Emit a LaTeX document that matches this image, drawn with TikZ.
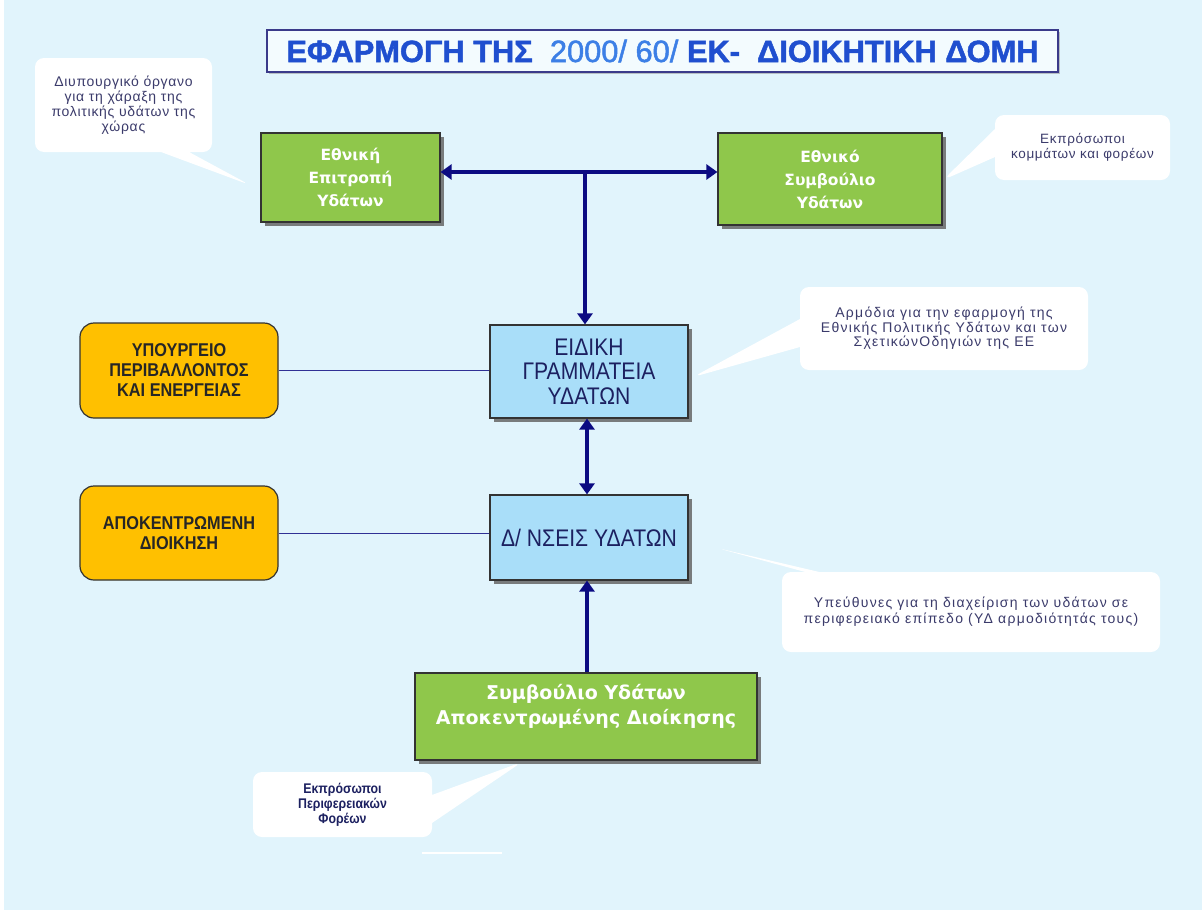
\documentclass[tikz,border=0pt]{standalone}
\usepackage{fontspec}
\usepackage{graphicx}
\setmainfont{Liberation Sans}
\newfontfamily\callfont[LetterSpace=5]{Liberation Sans}
\newfontfamily\callwide[LetterSpace=9]{Liberation Sans}
\newfontfamily\narrowfont[FakeStretch=0.88]{Liberation Sans}
\newfontfamily\titlefont[FakeBold=1.6]{Liberation Sans}
\newfontfamily\verdfont{DejaVu Sans}
\usetikzlibrary{arrows.meta,shadows,shapes.callouts}
\definecolor{bgc}{HTML}{E1F4FC}
\definecolor{gfill}{HTML}{8FC74B}
\definecolor{bfill}{HTML}{A9DEF9}
\definecolor{ofill}{HTML}{FFC000}
\definecolor{arrcol}{HTML}{0B0B82}
\definecolor{navytext}{HTML}{1C2060}
\definecolor{calltext}{HTML}{3B3B6B}
\definecolor{tblue}{HTML}{1F4FCF}
\definecolor{tlight}{HTML}{3C7FE6}
\definecolor{tframe}{HTML}{3A3A8A}
\tikzset{
  shad/.style={drop shadow={shadow xshift=4pt, shadow yshift=-4pt, fill=black!60, opacity=0.85}},
  gbox/.style={shad, draw=black!80, line width=1.2pt, fill=gfill, text=white,
    font=\verdfont\bfseries\fontsize{15.5}{23}\selectfont, align=center},
  bbox/.style={shad, draw=black!80, line width=1.2pt, fill=bfill, text=navytext,
    font=\narrowfont\fontsize{24}{24.5}\selectfont, align=center},
  obox/.style={draw=black!80, line width=1.2pt, fill=ofill, rounded corners=14pt, text=black!85,
    font=\narrowfont\bfseries\fontsize{18.5}{20}\selectfont, align=center},
  call/.style={rectangle callout, fill=white, rounded corners=9pt, align=center, text=calltext,
    font=\callfont\fontsize{14}{15}\selectfont, callout pointer width=28pt},
  arr/.style={draw=arrcol, line width=4pt, -{Triangle[length=11pt,width=15pt]}},
  darr/.style={draw=arrcol, line width=4pt, {Triangle[length=11pt,width=15pt]}-{Triangle[length=11pt,width=15pt]}},
  thinline/.style={draw=arrcol!85, line width=1pt}
}
\begin{document}
\begin{tikzpicture}[x=1pt,y=-1pt]
\useasboundingbox (0,0) rectangle (1202,910);
\fill[white] (0,0) rectangle (1202,910);
\fill[bgc] (4,0) rectangle (1202,910);

% title
\node[fill=white!60!bgc, draw=tframe, line width=1.3pt, minimum width=791pt, minimum height=42pt,
  drop shadow={shadow xshift=2pt, shadow yshift=-2pt, fill=black!45}] (title) at (662.5,51)
  {\resizebox{752pt}{!}{\titlefont\bfseries\color{tblue}ΕΦΑΡΜΟΓΗ ΤΗΣ \ {\mdseries\color{tlight}2000/ 60/} ΕΚ- \ ΔΙΟΙΚΗΤΙΚΗ ΔΟΜΗ}};

% green boxes
\node[gbox, minimum width=179pt, minimum height=89pt] (ethnep) at (350.5,177.5) {Εθνική\\Επιτροπή\\Υδάτων};
\node[gbox, minimum width=224pt, minimum height=92pt] (ethnsym) at (830,179) {Εθνικό\\Συμβούλιο\\Υδάτων};
\node[gbox, minimum width=342pt, minimum height=87pt, font=\verdfont\bfseries\fontsize{19}{24.5}\selectfont] (symv) at (586,716.5)
  {Συμβούλιο Υδάτων\\Αποκεντρωμένης Διοίκησης\rule[-24pt]{0pt}{24pt}};

% blue boxes
\node[bbox, minimum width=198pt, minimum height=93pt] (eidiki) at (589,371.5) {ΕΙΔΙΚΗ\\ΓΡΑΜΜΑΤΕΙΑ\\ΥΔΑΤΩΝ};
\node[bbox, minimum width=198pt, minimum height=85pt] (dnseis) at (589,537.5) {Δ/ ΝΣΕΙΣ ΥΔΑΤΩΝ};

% orange boxes
\node[obox, minimum width=198pt, minimum height=95pt] (ypourg) at (179,370.5) {ΥΠΟΥΡΓΕΙΟ\\ΠΕΡΙΒΑΛΛΟΝΤΟΣ\\ΚΑΙ ΕΝΕΡΓΕΙΑΣ};
\node[obox, minimum width=198pt, minimum height=94pt] (apok) at (179,533) {ΑΠΟΚΕΝΤΡΩΜΕΝΗ\\ΔΙΟΙΚΗΣΗ};

% connectors
\coordinate (j) at (585,172);
\draw[darr] (ethnep.east |- j) -- (ethnsym.west |- j);
\draw[arr] (j) -- (j |- eidiki.north);
\draw[darr] ([xshift=-2pt]eidiki.south) -- ([xshift=-2pt]dnseis.north);
\draw[arr] ([xshift=1pt]symv.north) -- ([xshift=1pt]symv.north |- dnseis.south);
\draw[thinline] (ypourg.east) -- (eidiki.west |- ypourg.east);
\draw[thinline] (apok.east) -- (dnseis.west |- apok.east);

% callouts
\node[call, minimum width=177pt, minimum height=94pt, callout absolute pointer={(250,185)}] (c1) at (123.5,105)
  {Διυπουργικό όργανο\\για τη χάραξη της\\πολιτικής υδάτων της\\χώρας};
\node[call, minimum width=175pt, minimum height=65pt, font=\callfont\fontsize{13.5}{15}\selectfont, callout absolute pointer={(943,180)}] (c2) at (1082.5,147.5)
  {Εκπρόσωποι\\κομμάτων και φορέων};
\node[call, minimum width=288pt, minimum height=83pt, font=\callwide\fontsize{14}{14.5}\selectfont, callout absolute pointer={(693,377)}] (c3) at (944,328.5)
  {Αρμόδια για την εφαρμογή της\\Εθνικής Πολιτικής Υδάτων και των\\ΣχετικώνΟδηγιών της ΕΕ};
\node[call, minimum width=378pt, minimum height=80pt, font=\callwide\fontsize{14}{16}\selectfont, callout pointer width=14pt, callout absolute pointer={(717,548)}] (c4) at (971,612)
  {Υπεύθυνες για τη διαχείριση των υδάτων σε\\περιφερειακό επίπεδο (ΥΔ αρμοδιότητάς τους)};
\node[call, minimum width=179pt, minimum height=65pt, text=navytext, font=\narrowfont\bfseries\fontsize{14}{15}\selectfont, callout absolute pointer={(522,762)}] (c5) at (342.5,804.5)
  {Εκπρόσωποι\\Περιφερειακών\\Φορέων};

\draw[white, line width=1.5pt] (422,853) -- (502,853);
\end{tikzpicture}
\end{document}
